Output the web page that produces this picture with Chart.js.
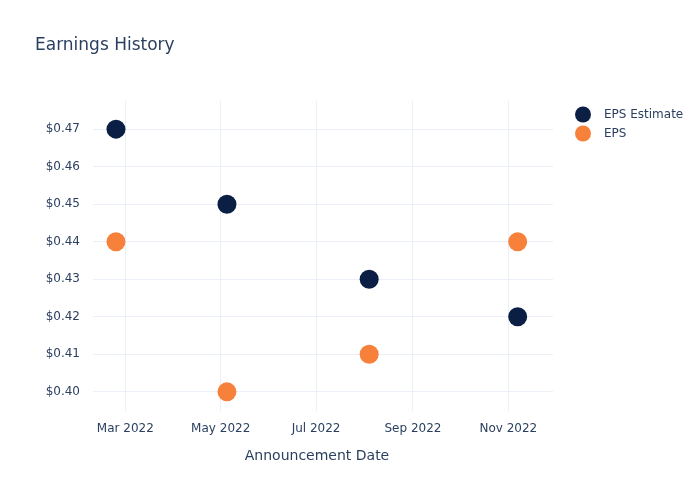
<!DOCTYPE html>
<html>
<head>
<meta charset="utf-8">
<script src="https://cdn.jsdelivr.net/npm/chart.js@4/dist/chart.umd.min.js"></script>
<style>
  html, body { margin: 0; padding: 0; background: #fff; }
  #wrap { width: 700px; height: 500px; position: relative; }
</style>
</head>
<body>
<div id="wrap"><canvas id="myChart" width="700" height="500"></canvas></div>
<script>
// announcement dates and values
const dates = ['2022-02-23', '2022-05-05', '2022-08-04', '2022-11-07']
const epsEstimate = [0.47, 0.45, 0.43, 0.42]
const eps = [0.44, 0.40, 0.41, 0.44]
const seriesNames = ['EPS Estimate', 'EPS']
const seriesColors = ['#0b1f44', '#f7803a']

const monthTicks = ['2022-03-01', '2022-05-01', '2022-07-01', '2022-09-01', '2022-11-01']
const monthLabels = ['Mar 2022', 'May 2022', 'Jul 2022', 'Sep 2022', 'Nov 2022']
const yTicks = [0.40, 0.41, 0.42, 0.43, 0.44, 0.45, 0.46, 0.47]

const textColor = '#2a3f5f'
const gridColor = '#ebf0f8'
const DAY = 86400000

function ts(d) { return Date.parse(d + 'T00:00:00Z') }

const xMin = ts('2022-03-01') - 20.7 * DAY
const xMax = ts('2022-11-01') + 28.6 * DAY

function toPoints(vals) {
    return vals.map((v, i) => ({ x: ts(dates[i]), y: v }))
}

// title, axis title and legend drawn as canvas text at plotly-like positions
const extras = {
    id: 'extras',
    afterDraw(chart) {
        const ctx = chart.ctx
        ctx.save()
        ctx.fillStyle = textColor
        ctx.textBaseline = 'middle'
        ctx.textAlign = 'left'
        ctx.font = '17px "DejaVu Sans", "Open Sans", sans-serif'
        ctx.fillText('Earnings History', 35, 46)
        ctx.textAlign = 'center'
        ctx.font = '14px "DejaVu Sans", "Open Sans", sans-serif'
        ctx.fillText('Announcement Date', 317, 456)
        ctx.textAlign = 'left'
        ctx.font = '12px "DejaVu Sans", "Open Sans", sans-serif'
        seriesNames.forEach((name, i) => {
            const y = 114.5 + i * 19
            ctx.beginPath()
            ctx.arc(583, y, 8, 0, Math.PI * 2)
            ctx.fillStyle = seriesColors[i]
            ctx.fill()
            ctx.fillStyle = textColor
            ctx.fillText(name, 604, y)
        })
        ctx.restore()
    }
}

const data = {
    datasets: [{
        label: seriesNames[0],
        data: toPoints(epsEstimate),
        backgroundColor: seriesColors[0],
        borderColor: seriesColors[0],
        pointRadius: 9.5,
        pointHoverRadius: 9.5,
        borderWidth: 0,
        showLine: false
    }, {
        label: seriesNames[1],
        data: toPoints(eps),
        backgroundColor: seriesColors[1],
        borderColor: seriesColors[1],
        pointRadius: 9.5,
        pointHoverRadius: 9.5,
        borderWidth: 0,
        showLine: false
    }]
}

const config = {
    type: 'scatter',
    data: data,
    options: {
        responsive: false,
        animation: false,
        layout: { padding: { left: 0, top: 101, right: 147, bottom: 0 } },
        plugins: {
            legend: { display: false },
            title: { display: false },
            tooltip: { enabled: false }
        },
        scales: {
            x: {
                type: 'linear',
                min: xMin,
                max: xMax,
                afterBuildTicks: s => { s.ticks = monthTicks.map(d => ({ value: ts(d) })) },
                afterFit: s => { s.height = 89 },
                grid: { color: gridColor, drawTicks: false },
                border: { display: false },
                ticks: {
                    padding: 11,
                    color: textColor,
                    font: { family: '"DejaVu Sans", sans-serif', size: 12 },
                    maxRotation: 0,
                    callback: (v) => monthLabels[monthTicks.findIndex(d => ts(d) === v)]
                }
            },
            y: {
                min: 0.3949,
                max: 0.4775,
                afterBuildTicks: s => { s.ticks = yTicks.map(v => ({ value: v })) },
                afterFit: s => { s.width = 93 },
                grid: { color: gridColor, drawTicks: false },
                border: { display: false },
                ticks: {
                    padding: 13,
                    color: textColor,
                    font: { family: '"DejaVu Sans", sans-serif', size: 12 },
                    callback: v => '$' + v.toFixed(2)
                }
            }
        }
    },
    plugins: [extras]
}

let myChart = new Chart(document.getElementById('myChart'), config)
</script>
</body>
</html>
